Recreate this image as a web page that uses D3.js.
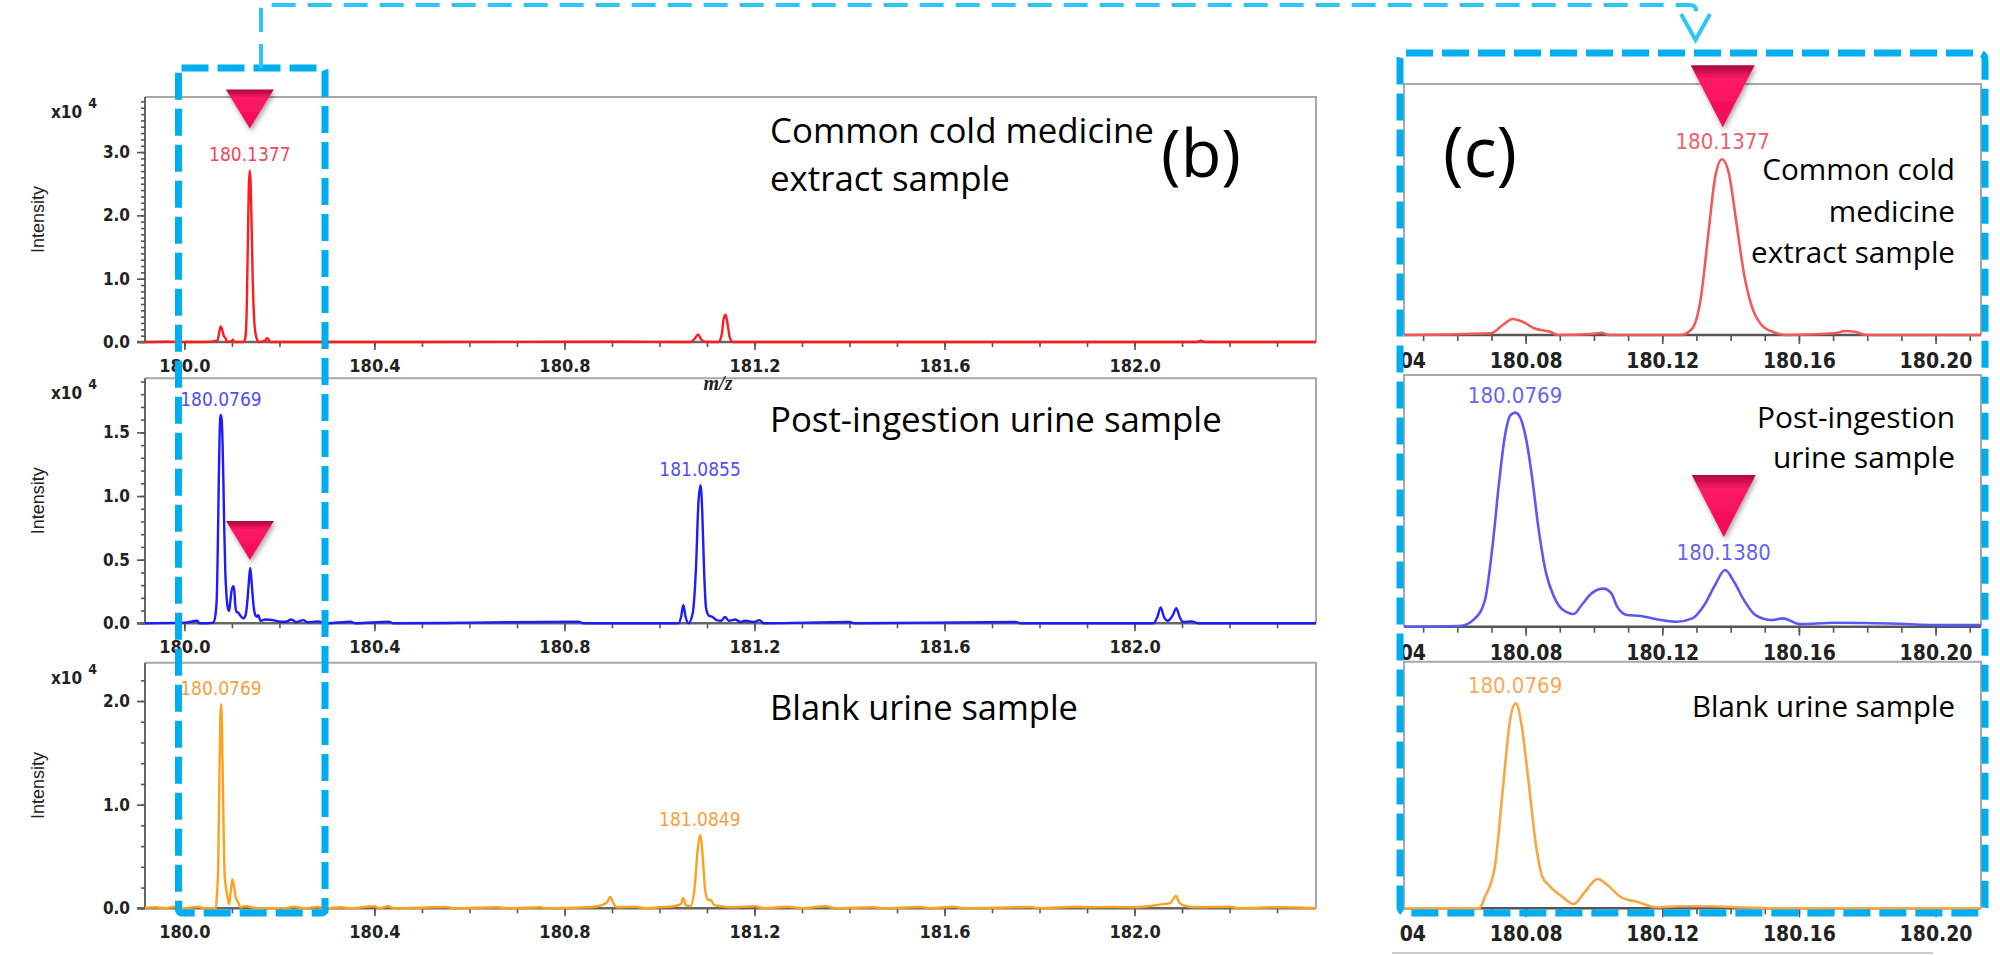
<!DOCTYPE html>
<html><head><meta charset="utf-8">
<script src="https://cdn.jsdelivr.net/npm/d3@7"></script>
<style>html,body{margin:0;padding:0;background:#fff;} svg{display:block}</style>
</head><body>
<svg id="c" width="2000" height="955"></svg>
<script>
// ---------------- DATA ----------------
const leftDomain = [179.917, 182.382];
const rightDomain = [180.0444, 180.2133];
const leftTickValues = [180.0, 180.4, 180.8, 181.2, 181.6, 182.0];
const rightTickValues = [180.04, 180.08, 180.12, 180.16, 180.20];
const intensityMax = [3.87, 1.925, 2.37];
const yLabelValues = [[0, 1, 2, 3], [0, 0.5, 1, 1.5], [0, 1, 2]];
const yMinorStep = [0.1, 0.1, 0.2];
const namesLeft = [["Common cold medicine", "extract sample"], ["Post-ingestion urine sample"], ["Blank urine sample"]];
const namesRight = [["Common cold", "medicine", "extract sample"], ["Post-ingestion", "urine sample"], ["Blank urine sample"]];
const panelTags = ["(b)", "(c)"];

// m/z, intensity (x10^4)
const coldSpectrum = [
[179.917,0],[179.96,0.005],[180.0,0],[180.0444,0],
[180.0698,0.026],[180.0733,0.154],[180.0762,0.247],[180.0791,0.205],[180.0825,0.103],[180.0872,0.051],[180.0895,0],
[180.1000,0.02],[180.1022,0.035],[180.1045,0],[180.1254,0],[180.1288,0.103],[180.1312,0.54],[180.1335,1.568],
[180.1355,2.44],[180.1375,2.71],[180.1395,2.49],[180.1416,1.77],[180.1439,0.95],[180.1462,0.44],[180.1491,0.154],
[180.1531,0.036],[180.1566,0],[180.1705,0.026],[180.1734,0.062],[180.1763,0.05],[180.1798,0],[180.2133,0],
[180.5,0],[180.9,0.005],[181.065,0],[181.075,0.06],[181.081,0.12],[181.087,0.05],[181.094,0.005],[181.124,0],
[181.131,0.12],[181.135,0.36],[181.139,0.43],[181.143,0.3],[181.148,0.07],[181.155,0],[182.13,0],[182.14,0.02],
[182.15,0],[182.382,0]
];
const postSpectrum = [
[179.917,0],[180.0,0.005],[180.027,0.02],[180.032,0],[180.0444,0],
[180.0606,0.005],[180.0652,0.064],[180.0681,0.204],[180.0704,0.638],[180.0721,1.071],[180.0739,1.453],[180.0756,1.619],
[180.0770,1.637],[180.0785,1.594],[180.0802,1.428],[180.0820,1.122],[180.0837,0.765],[180.0860,0.408],[180.0883,0.23],
[180.0907,0.133],[180.0941,0.097],[180.0964,0.166],[180.0993,0.255],[180.1028,0.291],[180.1051,0.255],[180.1068,0.153],
[180.1097,0.089],[180.1138,0.082],[180.1184,0.057],[180.1242,0.038],[180.1288,0.064],[180.1323,0.166],[180.1352,0.306],
[180.1384,0.434],[180.1410,0.344],[180.1439,0.204],[180.1473,0.089],[180.1520,0.051],[180.1554,0.064],[180.1601,0.02],
[180.1705,0.03],[180.1867,0.025],[180.2017,0.012],[180.2133,0.012],
[180.225,0.03],[180.235,0.01],[180.25,0.025],[180.26,0.008],[180.28,0.015],[180.3,0],[180.35,0.012],[180.36,0],
[180.43,0.012],[180.44,0],[180.6,0.005],[180.83,0.012],[180.84,0],
[181.040,0],[181.046,0.06],[181.050,0.144],[181.055,0.05],[181.061,0],[181.07,0.08],[181.077,0.45],[181.082,0.95],
[181.0865,1.086],[181.090,0.88],[181.094,0.4],[181.098,0.12],[181.104,0.06],[181.112,0.05],[181.120,0.025],[181.13,0.02],
[181.138,0.05],[181.146,0.02],[181.16,0.03],[181.17,0.01],[181.18,0.02],[181.2,0.01],[181.21,0.025],[181.22,0],
[181.4,0.01],[181.41,0],[181.75,0.01],[181.76,0],
[182.040,0],[182.048,0.05],[182.055,0.125],[182.062,0.05],[182.070,0.02],[182.080,0.06],[182.088,0.118],[182.095,0.05],
[182.102,0.01],[182.12,0.015],[182.135,0],[182.382,0]
];
const blankSpectrum = [
[179.917,0.005],[179.94,0.01],[179.96,0],[179.98,0.015],[180.0,0],[180.02,0.01],[180.03,0.015],[180.04,0],[180.0444,0],
[180.0664,0],[180.0681,0.111],[180.0710,0.40],[180.0733,1.137],[180.0756,1.84],[180.0771,1.97],[180.0789,1.745],
[180.0808,1.233],[180.0831,0.592],[180.0849,0.304],[180.0872,0.208],[180.0907,0.111],[180.0941,0.041],[180.0970,0.144],
[180.1011,0.282],[180.1045,0.208],[180.1080,0.105],[180.1126,0.063],[180.1184,0.01],[180.1254,0.02],[180.1335,0.02],
[180.1416,0.01],[180.1531,0],[180.2133,0],
[180.23,0.015],[180.25,0],[180.28,0.012],[180.30,0],[180.33,0.01],[180.35,0],[180.4,0.02],[180.41,0],[180.43,0.02],
[180.44,0],[180.55,0.012],[180.57,0],[180.66,0.01],[180.68,0],[180.75,0.01],[180.76,0],[180.85,0.01],[180.87,0.02],
[180.89,0.06],[180.896,0.11],[180.903,0.05],[180.91,0.01],[180.95,0.015],[180.97,0],[181.0,0.01],[181.03,0.02],
[181.045,0.04],[181.05,0.1],[181.055,0.03],[181.065,0.02],[181.074,0.2],[181.080,0.55],[181.086,0.707],[181.091,0.5],
[181.096,0.18],[181.102,0.08],[181.108,0.08],[181.115,0.03],[181.13,0.02],[181.15,0.01],[181.2,0.02],[181.22,0],
[181.27,0.015],[181.3,0],[181.35,0.02],[181.37,0],[181.45,0.01],[181.47,0],[181.55,0.012],[181.57,0],[181.62,0.015],
[181.64,0],[181.78,0.012],[181.80,0],[181.88,0.015],[181.9,0.01],[181.95,0.012],[182.0,0.01],[182.03,0.02],[182.06,0.04],
[182.075,0.05],[182.087,0.12],[182.095,0.05],[182.11,0.02],[182.13,0.01],[182.2,0.015],[182.22,0],[182.3,0.01],[182.382,0]
];
// [m/z, intensity, label, views]
const coldPeakLabels = [[180.1377, 2.71, "180.1377", "LR"]];
const postPeakLabels = [[180.0769, 1.637, "180.0769", "LR"], [181.0855, 1.086, "181.0855", "L"], [180.1380, 0.434, "180.1380", "R"]];
const blankPeakLabels = [[180.0769, 1.97, "180.0769", "LR"], [181.0849, 0.707, "181.0849", "L"]];
// [panel, m/z, intensity, view]
const markerPeaks = [[0, 180.1377, 2.71, "L"], [1, 180.1380, 0.434, "L"], [0, 180.1377, 2.71, "R"], [1, 180.1380, 0.434, "R"]];

// ---------------- LAYOUT ----------------
const svg = d3.select("#c");
const defs = svg.append("defs");
const narrow = '"Liberation Sans Narrow","Arial Narrow","DejaVu Sans Condensed",sans-serif';
const textFont = '"Open Sans","Noto Sans",sans-serif';
const spectra = [coldSpectrum, postSpectrum, blankSpectrum];
const peakLabels = [coldPeakLabels, postPeakLabels, blankPeakLabels];
const colL = ["#ff1c1c", "#1c1cff", "#ffa11c"];
const colR = ["#f25a5a", "#5a5af2", "#f8a646"];
const labColL = ["#f2485a", "#4f4ff0", "#f6a040"];
const labColR = ["#f0606a", "#6464ee", "#f7aa55"];

const Lp = [{t: 97, b: 342}, {t: 378.3, b: 623.3}, {t: 662.7, b: 908.3}];
const Rp = [{t: 84, b: 335}, {t: 375, b: 626.7}, {t: 661.7, b: 908.3}];
const xL = d3.scaleLinear().domain(leftDomain).range([145, 1316]);
const xR = d3.scaleLinear().domain(rightDomain).range([1404, 1981]);

defs.append("clipPath").attr("id", "clipL").append("rect").attr("x", 145).attr("y", 0).attr("width", 1171).attr("height", 955);
defs.append("clipPath").attr("id", "clipRplot").append("rect").attr("x", 1404).attr("y", 0).attr("width", 577).attr("height", 955);
defs.append("clipPath").attr("id", "clipRall").append("rect").attr("x", 1400).attr("y", 0).attr("width", 600).attr("height", 955);

const grad = defs.append("linearGradient").attr("id", "triG").attr("x1", 0).attr("y1", 0).attr("x2", 0).attr("y2", 1);
[["0%", "#a80d40"], ["10%", "#d0104e"], ["22%", "#ff1a68"], ["100%", "#ee0856"]].forEach(s => grad.append("stop").attr("offset", s[0]).attr("stop-color", s[1]));
const flt = defs.append("filter").attr("id", "shadow").attr("x", "-30%").attr("y", "-30%").attr("width", "160%").attr("height", "170%");
flt.append("feDropShadow").attr("dx", 1.5).attr("dy", 3).attr("stdDeviation", 2.5).attr("flood-color", "#000").attr("flood-opacity", 0.35);

function minorTicks(dom, step) {
  const out = [];
  const start = Math.ceil(dom[0] / step - 1e-6);
  const end = Math.floor(dom[1] / step + 1e-6);
  for (let k = start; k <= end; k++) out.push(+(k * step).toFixed(5));
  return out;
}

function styleAxis(g, fs) {
  g.select(".domain").remove();
  g.selectAll(".tick line").attr("stroke", "#555").attr("stroke-width", 1.6);
  g.selectAll(".tick text").attr("fill", "#222").attr("font-family", narrow).attr("font-weight", "bold").attr("font-size", fs);
}

// ---- Left panels
for (let i = 0; i < 3; i++) {
  const p = Lp[i];
  const y = d3.scaleLinear().domain([0, intensityMax[i]]).range([p.b, p.t]);
  const g = svg.append("g");
  g.append("path").attr("d", `M145,${p.t}H1316V${p.b}`).attr("fill", "none").attr("stroke", "#a8a8a8").attr("stroke-width", 2);
  const ym = g.append("g").attr("transform", "translate(145,0)")
    .call(d3.axisLeft(y).tickValues(minorTicks([0, intensityMax[i]], yMinorStep[i])).tickSize(4).tickFormat(""));
  styleAxis(ym, 16);
  const ya = g.append("g").attr("transform", "translate(145,0)")
    .call(d3.axisLeft(y).tickValues(yLabelValues[i]).tickSize(8).tickPadding(7).tickFormat(d3.format(".1f")));
  styleAxis(ya, 17);
  g.append("line").attr("x1", 145).attr("x2", 145).attr("y1", p.t).attr("y2", p.b).attr("stroke", "#555").attr("stroke-width", 1.8);
  const xm = g.append("g").attr("transform", `translate(0,${p.b})`)
    .call(d3.axisBottom(xL).tickValues(minorTicks(leftDomain, 0.1)).tickSize(5).tickFormat(""));
  styleAxis(xm, 16);
  const xa = g.append("g").attr("transform", `translate(0,${p.b})`)
    .call(d3.axisBottom(xL).tickValues(leftTickValues).tickSize(8).tickPadding(9).tickFormat(d3.format(".1f")));
  styleAxis(xa, 18);
  g.append("line").attr("x1", 137).attr("x2", 1316).attr("y1", p.b).attr("y2", p.b).attr("stroke", "#666").attr("stroke-width", 2.5);
  g.append("text").attr("transform", `translate(44,${(p.t + p.b) / 2}) rotate(-90)`).attr("text-anchor", "middle")
    .attr("font-family", '"Liberation Sans",Arial,sans-serif').attr("font-size", 18).attr("fill", "#222").text("Intensity");
  const xt = g.append("text").attr("x", 51).attr("y", p.t + 21).attr("font-family", narrow).attr("font-weight", "bold").attr("font-size", 17).attr("fill", "#222");
  xt.append("tspan").text("x10");
  xt.append("tspan").attr("dx", 6).attr("dy", -10).attr("font-size", 14).text("4");
  const line = d3.line().x(d => xL(d[0])).y(d => y(d[1])).curve(d3.curveMonotoneX);
  g.append("path").attr("clip-path", "url(#clipL)").attr("d", line(spectra[i])).attr("fill", "none")
    .attr("stroke", colL[i]).attr("stroke-width", 2.4).attr("stroke-linejoin", "round");
  peakLabels[i].filter(d => d[3].includes("L")).forEach(d => {
    g.append("text").attr("x", xL(d[0])).attr("y", y(d[1]) - 9).attr("text-anchor", "middle")
      .attr("font-family", narrow).attr("font-size", 19).attr("fill", labColL[i]).text(d[2]);
  });
}
svg.append("text").attr("x", 718).attr("y", 390).attr("text-anchor", "middle").attr("font-family", '"Liberation Serif",serif')
  .attr("font-style", "italic").attr("font-weight", "bold").attr("font-size", 20).attr("fill", "#222").text("m/z");

// ---- Right panels
for (let i = 0; i < 3; i++) {
  const p = Rp[i];
  const y = d3.scaleLinear().domain([0, intensityMax[i]]).range([p.b, p.t]);
  const g = svg.append("g").attr("clip-path", "url(#clipRall)");
  g.append("path").attr("d", `M1404,${p.b}V${p.t}H1981V${p.b}`).attr("fill", "none").attr("stroke", "#a8a8a8").attr("stroke-width", 2);
  const xm = g.append("g").attr("transform", `translate(0,${p.b})`)
    .call(d3.axisBottom(xR).tickValues(minorTicks(rightDomain, 0.01)).tickSize(6).tickFormat(""));
  styleAxis(xm, 16);
  const xa = g.append("g").attr("transform", `translate(0,${p.b})`)
    .call(d3.axisBottom(xR).tickValues(rightTickValues).tickSize(9).tickPadding(9).tickFormat(d3.format(".2f")));
  styleAxis(xa, 21);
  g.append("line").attr("x1", 1404).attr("x2", 1981).attr("y1", p.b).attr("y2", p.b).attr("stroke", "#555").attr("stroke-width", 2.5);
  const line = d3.line().x(d => xR(d[0])).y(d => y(d[1])).curve(d3.curveMonotoneX);
  g.append("path").attr("clip-path", "url(#clipRplot)").attr("d", line(spectra[i])).attr("fill", "none")
    .attr("stroke", colR[i]).attr("stroke-width", 2.6).attr("stroke-linejoin", "round");
  peakLabels[i].filter(d => d[3].includes("R")).forEach(d => {
    g.append("text").attr("x", xR(d[0])).attr("y", y(d[1]) - 10).attr("text-anchor", "middle")
      .attr("font-family", narrow).attr("font-size", 22).attr("fill", labColR[i]).text(d[2]);
  });
}
svg.append("line").attr("x1", 1392).attr("x2", 1933).attr("y1", 953).attr("y2", 953).attr("stroke", "#ccc").attr("stroke-width", 2);

// ---- Sample name texts (fitted to reference widths)
function fit(sel, target) {
  const w = sel.node().getComputedTextLength();
  if (w > 0) sel.attr("font-size", +sel.attr("font-size") * target / w);
  return +sel.attr("font-size");
}
function textBlock(lines, x, baselines, anchor, refLine, refWidth) {
  const ts = lines.map((t, k) => svg.append("text").attr("x", x).attr("y", baselines[k]).attr("text-anchor", anchor)
    .attr("font-family", textFont).attr("font-size", 30).attr("fill", "#000").text(t));
  const fs = fit(ts[refLine], refWidth);
  ts.forEach(t => t.attr("font-size", fs));
}
textBlock(namesLeft[0], 770, [143, 191], "start", 0, 384);
textBlock(namesLeft[1], 770, [432], "start", 0, 452);
textBlock(namesLeft[2], 770, [720], "start", 0, 308);
textBlock(namesRight[0], 1955, [180, 222, 263], "end", 2, 204);
textBlock(namesRight[1], 1955, [428, 468], "end", 0, 198);
textBlock(namesRight[2], 1955, [717], "end", 0, 263);
textBlock([panelTags[0]], 1161, [177], "start", 0, 80);
textBlock([panelTags[1]], 1443, [177], "start", 0, 74);

// ---- Markers (triangles)
const markerGap = {L: [42, 8], R: [32, 33]};
const markerSize = {L: [48, 39], R: [64, 62]};
markerPeaks.forEach(m => {
  const [panel, mz, h, view] = m;
  const x = view === "L" ? xL(mz) : xR(mz);
  const P = view === "L" ? Lp[panel] : Rp[panel];
  const y = d3.scaleLinear().domain([0, intensityMax[panel]]).range([P.b, P.t]);
  const tipY = y(h) - markerGap[view][panel];
  const [w, hh] = markerSize[view];
  svg.append("path").attr("d", `M${x - w / 2},${tipY - hh}L${x + w / 2},${tipY - hh}L${x},${tipY}Z`)
    .attr("fill", "url(#triG)").attr("filter", "url(#shadow)");
});

// ---- Dashed highlight boxes and connector
svg.append("rect").attr("x", 178.5).attr("y", 68).attr("width", 146.5).attr("height", 845).attr("rx", 3)
  .attr("fill", "none").attr("stroke", "#00aeef").attr("stroke-width", 7).attr("stroke-dasharray", "27 9");
svg.append("rect").attr("x", 1400).attr("y", 53).attr("width", 585).attr("height", 860).attr("rx", 6)
  .attr("fill", "none").attr("stroke", "#00aeef").attr("stroke-width", 7).attr("stroke-dasharray", "27 9");
svg.append("path").attr("d", "M261,68V9Q261,5 265,5H1690Q1696,5 1696,11V20").attr("fill", "none")
  .attr("stroke", "#2ec5f7").attr("stroke-width", 4).attr("stroke-dasharray", "24 12");
svg.append("path").attr("d", "M1681,14L1695.5,40L1710,14").attr("fill", "none").attr("stroke", "#2ec5f7").attr("stroke-width", 4);
</script>
</body></html>
